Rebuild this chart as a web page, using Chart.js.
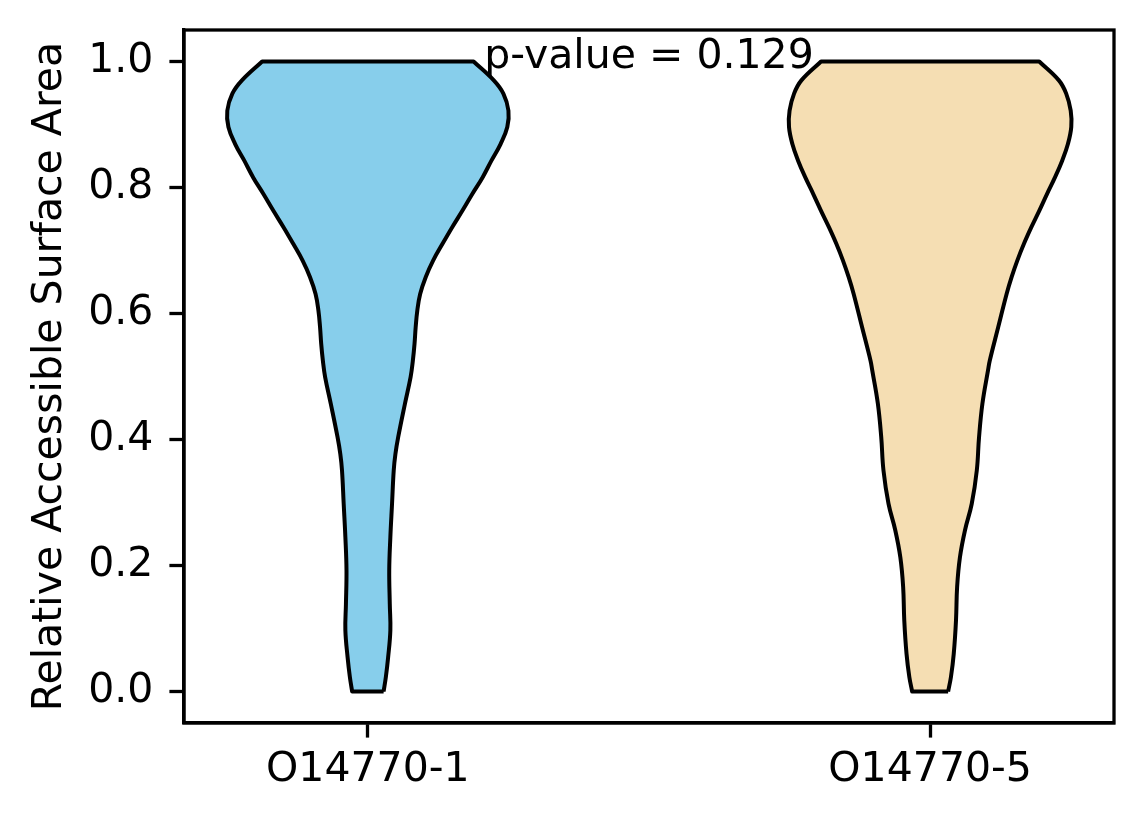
<!DOCTYPE html>
<html>
<head>
<meta charset="utf-8">
<script src="https://cdn.jsdelivr.net/npm/chart.js@4.4.0/dist/chart.umd.min.js"></script>
<style>
  body { margin: 0; background: #fff; }
  canvas { display: block; }
</style>
</head>
<body>
<canvas id="violinChart" width="1144" height="824"></canvas>
<script>
// groups on the x axis
const groups = ["O14770-1", "O14770-5"];
const groupPos = [1, 2];
const groupColors = ["#87CEEB", "#F5DEB3"];

// violin outlines: y level -> half width (x units)
const violin1Levels = [0, 0.023, 0.054, 0.097, 0.139, 0.192, 0.245, 0.298, 0.351, 0.377, 0.404, 0.457, 0.499, 0.525, 0.552, 0.578, 0.605, 0.631, 0.658, 0.684, 0.711, 0.737, 0.763, 0.790, 0.816, 0.843, 0.869, 0.896, 0.922, 0.949, 0.970, 1.0];
const violin1Half   = [0.028, 0.032, 0.036, 0.040, 0.039, 0.038, 0.040, 0.043, 0.046, 0.049, 0.054, 0.066, 0.076, 0.080, 0.083, 0.085, 0.088, 0.093, 0.103, 0.116, 0.133, 0.150, 0.168, 0.186, 0.204, 0.220, 0.236, 0.248, 0.250, 0.241, 0.224, 0.188];

const violin2Levels = [0, 0.023, 0.060, 0.113, 0.166, 0.213, 0.256, 0.298, 0.351, 0.404, 0.457, 0.510, 0.525, 0.578, 0.631, 0.658, 0.684, 0.711, 0.737, 0.763, 0.790, 0.816, 0.843, 0.869, 0.896, 0.922, 0.949, 0.970, 1.0];
const violin2Half   = [0.032, 0.037, 0.042, 0.046, 0.048, 0.053, 0.062, 0.074, 0.083, 0.087, 0.093, 0.103, 0.106, 0.121, 0.136, 0.145, 0.155, 0.167, 0.180, 0.194, 0.208, 0.222, 0.235, 0.245, 0.251, 0.250, 0.242, 0.229, 0.194];

// medians
const medians = [0.821, 0.774];
const medianHalf = 0.125;

// y ticks
const yTicks = [0, 0.2, 0.4, 0.6, 0.8, 1.0];

const pText = "p-value = 0.129";
const pLabelX = 1.5;
const pLabelY = 0.99;

const FONT = "'DejaVu Sans', sans-serif";
const FS = 41;
const LW = 3.3;

// closed outline; corner points doubled so the flat ends stay straight
function outline(center, levels, half) {
  const n = levels.length;
  const pts = [];
  for (let i = 0; i < n; i++) pts.push({ x: center + half[i], y: levels[i] });
  pts.push({ x: center + half[n - 1], y: levels[n - 1] });
  pts.push({ x: center - half[n - 1], y: levels[n - 1] });
  for (let i = n - 1; i >= 0; i--) pts.push({ x: center - half[i], y: levels[i] });
  pts.push({ x: center - half[0], y: levels[0] });
  pts.push({ x: center + half[0], y: levels[0] });
  return pts;
}

const violins = [
  outline(groupPos[0], violin1Levels, violin1Half),
  outline(groupPos[1], violin2Levels, violin2Half),
];

const datasets = [];
violins.forEach((pts, i) => {
  datasets.push({
    data: pts,
    showLine: true,
    fill: "shape",
    backgroundColor: groupColors[i],
    borderColor: "#000000",
    borderWidth: 4,
    borderJoinStyle: "round",
    pointRadius: 0,
    tension: 0.4,
  });
});
medians.forEach((m, i) => {
  datasets.push({
    data: [{ x: groupPos[i] - medianHalf, y: m }, { x: groupPos[i] + medianHalf, y: m }],
    showLine: true,
    borderColor: "#000000",
    borderWidth: 6,
    pointRadius: 0,
    fill: false,
  });
});

const framePlugin = {
  id: "frame",
  afterDraw(chart) {
    const { ctx, chartArea: a, scales } = chart;
    ctx.save();
    ctx.strokeStyle = "#000";
    ctx.lineWidth = LW;
    ctx.strokeRect(a.left, a.top, a.right - a.left, a.bottom - a.top);
    ctx.fillStyle = "#000";
    ctx.font = FS + "px " + FONT;
    ctx.textAlign = "center";
    ctx.textBaseline = "alphabetic";
    ctx.fillText(pText, scales.x.getPixelForValue(pLabelX), scales.y.getPixelForValue(pLabelY));
    ctx.restore();
  },
};

new Chart(document.getElementById("violinChart").getContext("2d"), {
  type: "scatter",
  data: { datasets: datasets },
  options: {
    responsive: false,
    animation: false,
    layout: { padding: { top: 30, right: 30, left: 0, bottom: 0 } },
    plugins: { legend: { display: false }, tooltip: { enabled: false } },
    scales: {
      x: {
        type: "linear",
        min: 0.673,
        max: 2.327,
        afterBuildTicks: (s) => { s.ticks = groupPos.map((v) => ({ value: v })); },
        afterFit: (s) => { s.height = 101; s.paddingLeft = 0; s.paddingRight = 0; },
        ticks: {
          callback: (v) => groups[groupPos.indexOf(v)] || "",
          color: "#000",
          font: { family: FONT, size: FS },
          padding: 8,
          maxRotation: 0,
        },
        grid: { drawOnChartArea: false, drawTicks: true, tickLength: 14.6, tickWidth: LW, tickColor: "#000" },
        border: { display: true, color: "#000", width: LW },
      },
      y: {
        min: -0.05,
        max: 1.05,
        afterBuildTicks: (s) => { s.ticks = yTicks.map((v) => ({ value: v })); },
        afterFit: (s) => { s.width = 184; s.paddingTop = 0; s.paddingBottom = 0; },
        ticks: {
          callback: (v) => v.toFixed(1),
          color: "#000",
          font: { family: FONT, size: FS },
          padding: 16,
        },
        grid: { drawOnChartArea: false, drawTicks: true, tickLength: 14.6, tickWidth: LW, tickColor: "#000" },
        border: { display: true, color: "#000", width: LW },
        title: {
          display: true,
          text: "Relative Accessible Surface Area",
          color: "#000",
          font: { family: FONT, size: FS },
          padding: { top: 26, bottom: 0 },
        },
      },
    },
  },
  plugins: [framePlugin],
});
</script>
</body>
</html>
